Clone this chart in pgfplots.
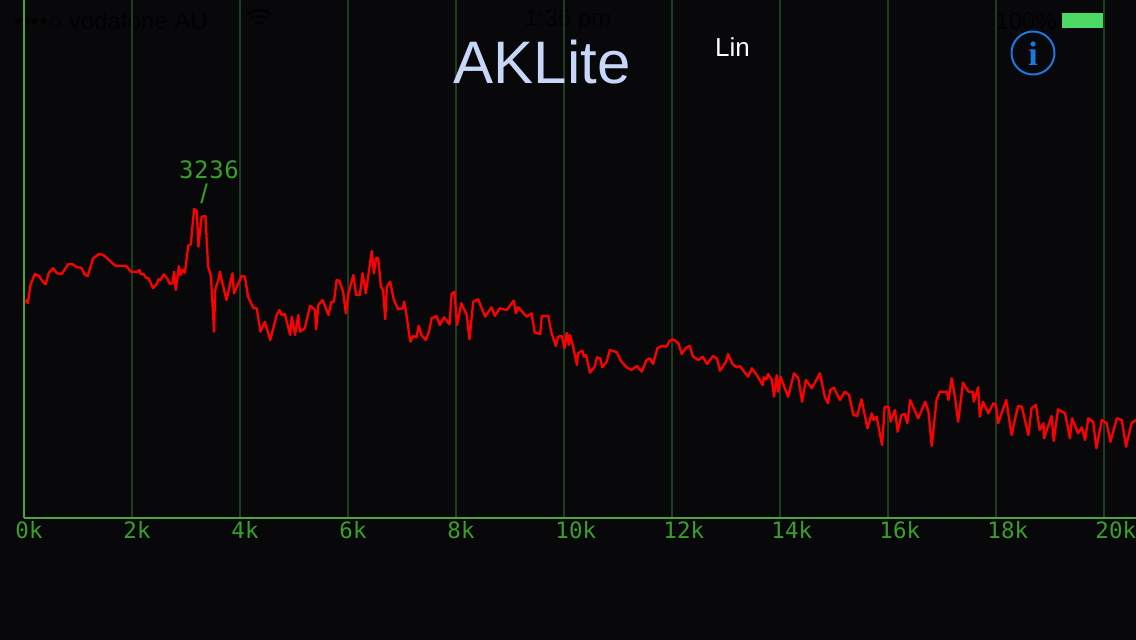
\documentclass[border=0pt]{standalone}
\usepackage{pgfplots}
\pgfplotsset{compat=1.18}
\usepackage{fontspec}
\setmainfont{Liberation Sans}
\newfontfamily\monof{DejaVu Sans Mono}
\newfontfamily\monot{DejaVu Sans Mono}[LetterSpace=2.5]
\newfontfamily\serifb{Liberation Serif}[BoldFont={Liberation Serif Bold}]
\definecolor{bgc}{HTML}{08080B}
\definecolor{axc}{HTML}{4CA53C}
\definecolor{gridc}{HTML}{1F3D1F}
\definecolor{lab}{HTML}{38A028}
\definecolor{titlec}{HTML}{C8D6F8}
\definecolor{infoc}{HTML}{1A78E0}
\definecolor{batt}{HTML}{4CD964}
\definecolor{stat}{HTML}{020203}
\pgfplotstableread{
x y
0.02 216
0.06 218
0.07 214.7
0.12 233
0.20 244
0.28 242
0.35 236.3
0.40 233.7
0.46 245.3
0.54 249.7
0.61 244.7
0.70 244
0.82 254
0.89 254
0.98 250.7
1.06 250.3
1.13 243
1.18 242
1.28 259.7
1.39 264
1.47 263
1.69 252.3
1.89 252.3
1.98 246.3
2.10 246
2.14 248
2.16 244
2.22 243.7
2.25 240.7
2.31 239.3
2.39 229.7
2.46 234
2.49 238.7
2.53 238
2.59 243.7
2.65 239.7
2.70 234
2.75 234.7
2.78 246.3
2.81 228
2.87 252
2.90 243
2.94 248
2.98 245.3
3.04 272
3.09 274
3.15 309
3.20 307.3
3.23 271.3
3.29 301.3
3.36 302
3.41 251.3
3.46 243
3.52 186.3
3.54 228
3.60 238
3.63 246.3
3.66 238
3.75 218
3.86 244.7
3.89 224.7
3.97 234.7
4.03 242
4.09 241.3
4.15 221.3
4.25 209.7
4.31 209.7
4.38 186.3
4.46 196.3
4.56 178
4.68 203
4.73 208
4.77 203
4.83 204
4.93 183
4.96 201.3
5.02 183
5.08 203
5.11 186.3
5.20 189.7
5.30 212.3
5.39 208
5.41 188.7
5.45 213
5.53 218
5.64 203
5.69 215.7
5.74 216.3
5.79 238
5.84 237.3
5.91 226.3
5.96 204.7
6.01 224.7
6.10 243
6.15 223
6.22 223
6.27 244.7
6.33 224.7
6.44 267
6.48 244.7
6.52 259.7
6.56 259.7
6.61 231.3
6.65 228
6.69 198.7
6.72 231.3
6.78 236.3
6.85 218
6.93 208.7
7.02 209.7
7.04 216.3
7.07 208
7.14 181.3
7.16 176.3
7.20 182
7.27 180.7
7.31 192.3
7.36 183
7.44 178
7.50 186.3
7.55 199.7
7.64 202
7.70 193
7.78 200.7
7.88 193.7
7.92 224
7.97 226.3
8.02 193
8.10 214.7
8.20 203
8.25 178.7
8.32 216.3
8.41 218.7
8.54 201.3
8.66 210.7
8.72 202
8.81 209.7
8.94 208
9.07 217.3
9.11 204.7
9.15 210.7
9.31 201.3
9.40 204.7
9.46 185.3
9.56 184
9.59 202
9.71 202
9.77 184.7
9.85 172
9.89 181.3
9.96 182
10.01 169.7
10.05 185.3
10.09 173
10.11 183
10.17 171.3
10.24 153
10.26 164.7
10.34 167.3
10.37 161.3
10.41 163
10.48 145.3
10.57 151.3
10.61 160.7
10.67 159.7
10.71 150.7
10.79 156.3
10.85 168
10.98 165.7
11.05 157.3
11.16 150.7
11.25 148
11.35 152
11.44 146.3
11.53 158
11.59 159.7
11.65 154
11.73 169.7
11.81 172
11.90 171.3
11.96 177.3
12.02 178.7
12.12 174.7
12.18 164
12.27 170.7
12.33 172
12.39 161.3
12.49 158
12.57 161.3
12.65 154
12.76 162
12.83 159.7
12.89 147.3
13.00 156.3
13.04 164
13.12 154
13.20 150.7
13.26 152
13.35 145.3
13.41 141.3
13.48 149.7
13.57 143
13.68 133
13.70 140.7
13.75 138.7
13.78 144
13.85 138
13.89 121.3
13.94 143
13.97 126.3
14.01 141.3
14.15 121.3
14.26 144.7
14.34 139.7
14.41 116.3
14.48 138
14.59 129.7
14.74 144.7
14.83 121.3
14.89 114.7
14.93 128
15.00 130.3
15.11 118
15.20 126.3
15.28 123
15.36 103
15.43 102
15.51 118.7
15.62 89.7
15.70 104.7
15.73 98
15.79 101.3
15.89 73
15.94 111.3
16.01 111.3
16.05 96.3
16.13 108
16.18 86.3
16.25 103
16.31 104
16.36 94.7
16.41 118
16.56 99.7
16.69 116.3
16.75 106.3
16.81 72
16.90 118
16.96 126.3
17.09 126.3
17.12 118
17.18 139.7
17.24 121.3
17.30 96.3
17.39 135.3
17.49 126.3
17.57 126.3
17.59 116.3
17.67 130.7
17.70 101.3
17.76 116.3
17.86 104.7
17.95 114.7
18.00 113
18.04 94.7
18.19 118
18.29 83
18.35 98
18.41 112
18.48 111.3
18.60 83
18.66 109.7
18.74 113
18.81 88
18.88 94.7
18.89 79.7
19.03 102
19.07 77
19.15 108.7
19.28 104.7
19.37 79.7
19.41 99.7
19.52 84.7
19.59 90.7
19.65 78
19.71 99.7
19.80 96.3
19.86 69.7
19.96 98
20.05 94.7
20.12 76.3
20.24 99.7
20.33 98
20.41 71.3
20.51 94.7
20.59 98
}\spectrum
\begin{document}
\begin{tikzpicture}[x=1pt,y=1pt]
\useasboundingbox (0,0) rectangle (1136,640);
\clip (0,0) rectangle (1136,640);
\fill[bgc] (0,0) rectangle (1136,640);
% status bar, nearly invisible on the background
\node[anchor=west,text=stat,inner sep=0pt,font=\fontsize{24}{24}\selectfont] at (14,619) {••••○ vodafone AU};
\foreach \r in {6,12,18}{\draw[stat,line width=2.5pt] (259,612) ++(50:\r) arc (50:130:\r);}
\node[anchor=center,text=stat,inner sep=0pt,font=\fontsize{24}{24}\selectfont] at (568,619) {1:36 pm};
\node[anchor=east,text=stat,inner sep=0pt,font=\fontsize{24}{24}\selectfont] at (1057,619) {100\%};
\fill[batt] (1062,612) rectangle (1103,627);
\begin{axis}[
  at={(24pt,122pt)}, anchor=south west,
  scale only axis, width=1112pt, height=518pt,
  xmin=0, xmax=20.593, ymin=0, ymax=518,
  axis x line=bottom, axis y line=left,
  axis line style={-, draw=axc, line width=2pt},
  xtick={0,2,4,6,8,10,12,14,16,18,20},
  xticklabels={0k,2k,4k,6k,8k,10k,12k,14k,16k,18k,20k},
  ytick=\empty,
  major tick length=0pt,
  xmajorgrids,
  grid style={draw=gridc, line width=1.8pt},
  xticklabel style={text=lab, font=\monof\fontsize{22.5}{22.5}\selectfont, anchor=north west, xshift=-8.5pt, yshift=-3.5pt, inner sep=0pt, outer sep=0pt},
  clip=false,
]
\addplot[draw=red, line width=2.3pt, line join=round, mark=none] table[x=x,y=y] {\spectrum};
\end{axis}
\node[text=lab,inner sep=0pt,font=\monot\fontsize{24}{24}\selectfont] at (209,470.5) {3236};
\node[text=lab,inner sep=0pt,font=\fontsize{27}{27}\selectfont] at (204,446) {/};
\node[text=titlec,inner sep=0pt,font=\fontsize{60}{60}\selectfont] at (542,578) {AKLite};
\node[text=white,inner sep=0pt,font=\fontsize{26}{26}\selectfont] at (732.5,593) {Lin};
\draw[infoc,line width=2pt] (1033,587) circle (21.5);
\node[text=infoc,inner sep=0pt,font=\serifb\bfseries\fontsize{34}{34}\selectfont] at (1033,586) {i};
\end{tikzpicture}
\end{document}
